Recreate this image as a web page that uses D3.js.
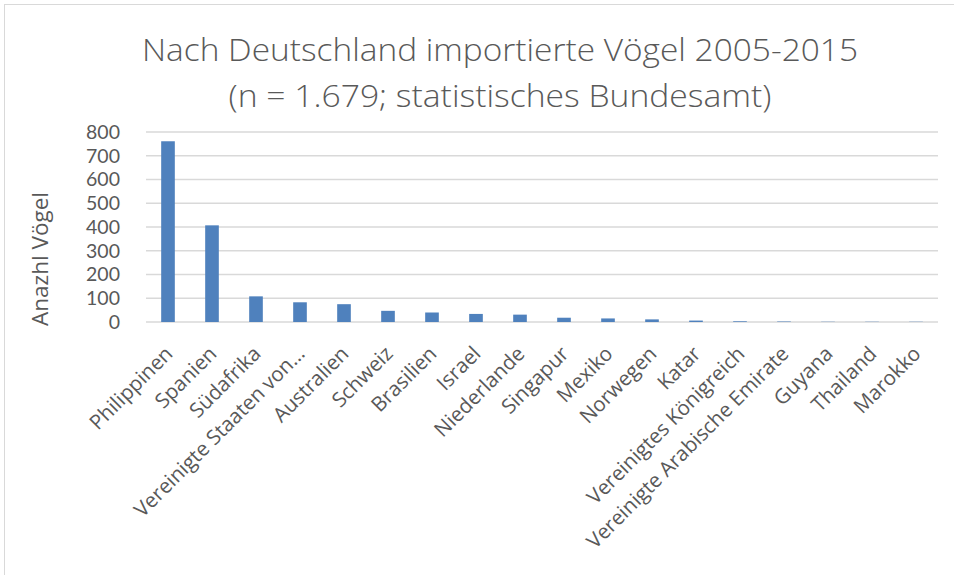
<!DOCTYPE html>
<html><head><meta charset="utf-8">
<script src="https://cdn.jsdelivr.net/npm/d3@7"></script>
<style>body{margin:0;background:#fff}svg{display:block}</style>
</head><body>
<svg id="chart" width="954" height="575"></svg>
<script>
const categories = ["Philippinen","Spanien","Südafrika","Vereinigte Staaten von…","Australien","Schweiz","Brasilien","Israel","Niederlande","Singapur","Mexiko","Norwegen","Katar","Vereinigtes Königreich","Vereinigte Arabische Emirate","Guyana","Thailand","Marokko"];
const values = [761, 407, 108, 83, 75, 47, 40, 34, 31, 18, 15, 11, 6, 3, 2, 1, 1, 1];
const yTicks = [0,100,200,300,400,500,600,700,800];
const titleLines = ["Nach Deutschland importierte Vögel 2005-2015","(n = 1.679; statistisches Bundesamt)"];
const yTitle = "Anazhl Vögel";

const svg = d3.select("#chart");
const W = 954, H = 575;
const m = {left:146, right:16, top:132, bottom:253};
const textColor = "#595959";

// chart area border
svg.append("rect").attr("x",4.5).attr("y",4.5).attr("width",W+20).attr("height",H+20)
  .attr("fill","#fff").attr("stroke","#d9d9d9").attr("stroke-width",1);

const x = d3.scaleBand().domain(categories).range([m.left, W-m.right]).paddingInner(0.69).paddingOuter(0.345);
const y = d3.scaleLinear().domain([0,800]).range([H-m.bottom, m.top]);

// gridlines
svg.append("g").selectAll("line").data(yTicks).join("line")
  .attr("x1", m.left).attr("x2", W-m.right)
  .attr("y1", d=>y(d)).attr("y2", d=>y(d))
  .attr("stroke","#d9d9d9").attr("stroke-width",1.3);

// y axis labels
const yAxis = d3.axisLeft(y).tickValues(yTicks).tickSize(0).tickPadding(26);
const gy = svg.append("g").attr("transform",`translate(${m.left},0)`).call(yAxis);
gy.select(".domain").remove();
gy.selectAll("text").attr("fill",textColor).style("font-family","Lato, 'Open Sans', sans-serif").style("font-size","19.5px");

// bars
svg.append("g").selectAll("rect").data(values).join("rect")
  .attr("x",(d,i)=>x(categories[i]))
  .attr("width",x.bandwidth())
  .attr("y",d=>y(d))
  .attr("height",d=>y(0)-y(d))
  .attr("fill","#4f81bd");

// category labels
svg.append("g").selectAll("text").data(categories).join("text")
  .attr("transform",d=>`translate(${x(d)+x.bandwidth()/2+6},${H-m.bottom+33}) rotate(-45)`)
  .attr("text-anchor","end")
  .attr("fill",textColor)
  .style("font-family","'Open Sans', sans-serif").style("font-size","20.5px")
  .text(d=>d);

// y title
svg.append("text")
  .attr("transform",`translate(48,259) rotate(-90)`)
  .attr("text-anchor","middle").attr("fill",textColor)
  .style("font-family","'Open Sans', sans-serif").style("font-size","22.5px")
  .text(yTitle);

// title
const tW = [716, 543];
const tY = [61, 107];
titleLines.forEach((t,i)=>{
  svg.append("text").attr("x",500).attr("y",tY[i]).attr("text-anchor","middle")
    .attr("fill",textColor)
    .attr("textLength",tW[i]).attr("lengthAdjust","spacingAndGlyphs")
    .style("font-family","'Open Sans', sans-serif").style("font-size","31px").style("font-weight","300")
    .text(t);
});
</script>
</body></html>
